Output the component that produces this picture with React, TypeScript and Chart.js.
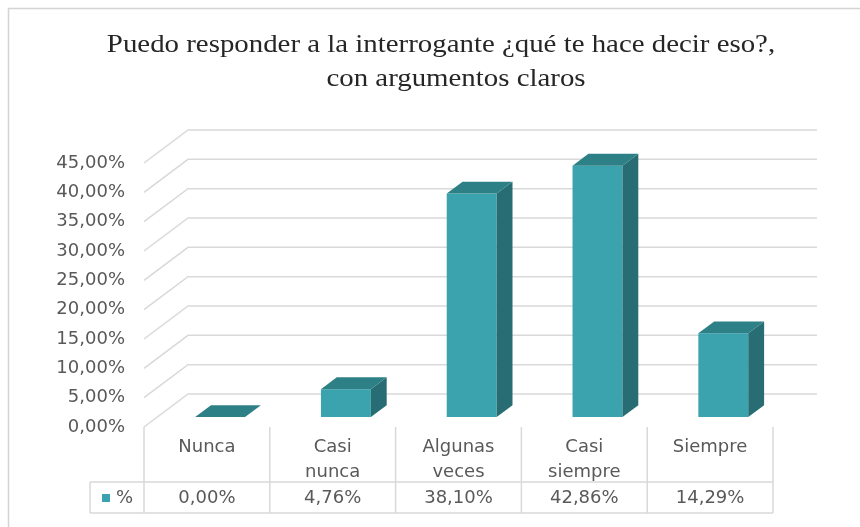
import React, { useEffect, useRef } from "react";
import { Chart, registerables } from "chart.js";

Chart.register(...registerables);

const TITLE_LINES = [
  "Puedo responder a la interrogante ¿qué te hace decir eso?,",
  "con argumentos claros",
];
const CATEGORIES: string[][] = [
  ["Nunca"],
  ["Casi", "nunca"],
  ["Algunas", "veces"],
  ["Casi", "siempre"],
  ["Siempre"],
];
const VALUES = [0, 4.76, 38.1, 42.86, 14.29];
const SERIES_NAME = "%";
const Y_MIN = 0;
const Y_MAX = 45;
const Y_STEP = 5;

const fmt = (v: number) => v.toFixed(2).replace(".", ",") + "%";

// 3D geometry (styling)
const DX = 44;
const DY = 33;
const BAR_FRONT = 0.3;
const BAR_BACK = 0.66;
const FRONT_COLOR = "#3aa3ad";
const TOP_COLOR = "#2e8087";
const SIDE_COLOR = "#276d73";
const GRID_COLOR = "#d9d9d9";
const TEXT_COLOR = "#595959";
const SANS = "'DejaVu Sans', sans-serif";
const TITLE_STRETCH = 1.11;

const threeD = {
  id: "threeD",
  beforeDraw(chart: any) {
    const ctx = chart.ctx as CanvasRenderingContext2D;
    ctx.save();
    ctx.fillStyle = "#ffffff";
    ctx.fillRect(0, 0, chart.width, chart.height);
    ctx.strokeStyle = "#d4d4d4";
    ctx.lineWidth = 1.5;
    ctx.beginPath();
    ctx.moveTo(8.5, chart.height);
    ctx.lineTo(8.5, 8.5);
    ctx.lineTo(chart.width, 8.5);
    ctx.stroke();
    // title (slightly stretched horizontally like the source)
    ctx.fillStyle = "#262626";
    ctx.font = "26px 'Liberation Serif', serif";
    ctx.textAlign = "center";
    ctx.textBaseline = "middle";
    const centers = [441, 456];
    const ys = [45, 79];
    TITLE_LINES.forEach((ln, i) => {
      ctx.save();
      ctx.translate(centers[i], ys[i]);
      ctx.scale(TITLE_STRETCH, 1);
      ctx.fillText(ln, 0, 0);
      ctx.restore();
    });
    ctx.restore();
  },
  beforeDatasetsDraw(chart: any) {
    const ctx = chart.ctx as CanvasRenderingContext2D;
    const { chartArea } = chart;
    const y = chart.scales.y;
    ctx.save();
    ctx.strokeStyle = GRID_COLOR;
    ctx.lineWidth = 1.5;
    y.ticks.forEach((t: any) => {
      const fy = y.getPixelForValue(t.value);
      ctx.beginPath();
      ctx.moveTo(chartArea.left, fy);
      ctx.lineTo(chartArea.left + DX, fy - DY);
      ctx.lineTo(chartArea.right + DX, fy - DY);
      ctx.stroke();
    });
    ctx.restore();
    ctx.save();
    ctx.translate(DX * BAR_FRONT, -DY * BAR_FRONT);
  },
  afterDatasetsDraw(chart: any) {
    const ctx = chart.ctx as CanvasRenderingContext2D;
    const meta = chart.getDatasetMeta(0);
    const bdx = DX * (BAR_BACK - BAR_FRONT);
    const bdy = DY * (BAR_BACK - BAR_FRONT);
    meta.data.forEach((bar: any) => {
      const { x, y, base, width } = bar.getProps(["x", "y", "base", "width"], true);
      const l = x - width / 2;
      const r = x + width / 2;
      if (base - y > 0.5) {
        ctx.fillStyle = SIDE_COLOR;
        ctx.beginPath();
        ctx.moveTo(r, y);
        ctx.lineTo(r + bdx, y - bdy);
        ctx.lineTo(r + bdx, base - bdy);
        ctx.lineTo(r, base);
        ctx.closePath();
        ctx.fill();
      }
      ctx.fillStyle = TOP_COLOR;
      ctx.beginPath();
      ctx.moveTo(l, y);
      ctx.lineTo(l + bdx, y - bdy);
      ctx.lineTo(r + bdx, y - bdy);
      ctx.lineTo(r, y);
      ctx.closePath();
      ctx.fill();
    });
    ctx.restore();
  },
  afterDraw(chart: any) {
    const ctx = chart.ctx as CanvasRenderingContext2D;
    const xs = chart.scales.x;
    const { chartArea } = chart;
    const half = (xs.getPixelForValue(1) - xs.getPixelForValue(0)) / 2;
    const top = chartArea.bottom;
    const mid = top + 55;
    const bottom = mid + 31;
    const legendLeft = 90;
    ctx.save();
    ctx.strokeStyle = GRID_COLOR;
    ctx.lineWidth = 1.5;
    const edges: number[] = [];
    CATEGORIES.forEach((_, i) => edges.push(xs.getPixelForValue(i) - half));
    edges.push(xs.getPixelForValue(CATEGORIES.length - 1) + half);
    ctx.beginPath();
    edges.forEach((ex) => {
      ctx.moveTo(ex, top);
      ctx.lineTo(ex, bottom);
    });
    ctx.moveTo(legendLeft, mid);
    ctx.lineTo(legendLeft, bottom);
    ctx.moveTo(legendLeft, mid);
    ctx.lineTo(edges[edges.length - 1], mid);
    ctx.moveTo(legendLeft, bottom);
    ctx.lineTo(edges[edges.length - 1], bottom);
    ctx.stroke();

    ctx.fillStyle = TEXT_COLOR;
    ctx.font = `18px ${SANS}`;
    ctx.textAlign = "center";
    ctx.textBaseline = "middle";
    CATEGORIES.forEach((lines, i) => {
      const cx = xs.getPixelForValue(i);
      lines.forEach((ln, j) => ctx.fillText(ln, cx, top + 20 + j * 25));
      ctx.fillText(fmt(VALUES[i]), cx, mid + 16);
    });
    ctx.fillStyle = FRONT_COLOR;
    ctx.fillRect(102, mid + 12, 8, 8);
    ctx.fillStyle = TEXT_COLOR;
    ctx.textAlign = "left";
    ctx.fillText(SERIES_NAME, 116, mid + 16);
    ctx.restore();
  },
};

export default function App() {
  const ref = useRef<HTMLCanvasElement | null>(null);
  useEffect(() => {
    if (!ref.current) return;
    const chart = new Chart(ref.current, {
      type: "bar",
      data: {
        labels: CATEGORIES,
        datasets: [
          {
            label: SERIES_NAME,
            data: VALUES,
            backgroundColor: FRONT_COLOR,
            borderWidth: 0,
            barPercentage: 50 / 126,
            categoryPercentage: 1,
            clip: false as any,
          },
        ],
      },
      options: {
        responsive: false,
        animation: false,
        layout: { padding: { left: 0, right: 87, top: 163, bottom: 100 } },
        plugins: {
          legend: { display: false },
          title: { display: false },
          tooltip: { enabled: false },
        },
        scales: {
          x: { display: false, offset: true },
          y: {
            min: Y_MIN,
            max: Y_MAX,
            grid: { display: false, drawTicks: false },
            border: { display: false },
            ticks: {
              stepSize: Y_STEP,
              padding: 19,
              color: TEXT_COLOR,
              font: { family: SANS, size: 18 },
              callback: (v: any) => fmt(Number(v)),
            },
            afterFit: (scale: any) => {
              scale.width = 144;
            },
          },
        },
      },
      plugins: [threeD],
    });
    return () => chart.destroy();
  }, []);
  return (
    <div style={{ position: "absolute", left: 0, top: 0, width: 860, height: 527 }}>
      <canvas ref={ref} width={860} height={527} style={{ display: "block" }} />
    </div>
  );
}
